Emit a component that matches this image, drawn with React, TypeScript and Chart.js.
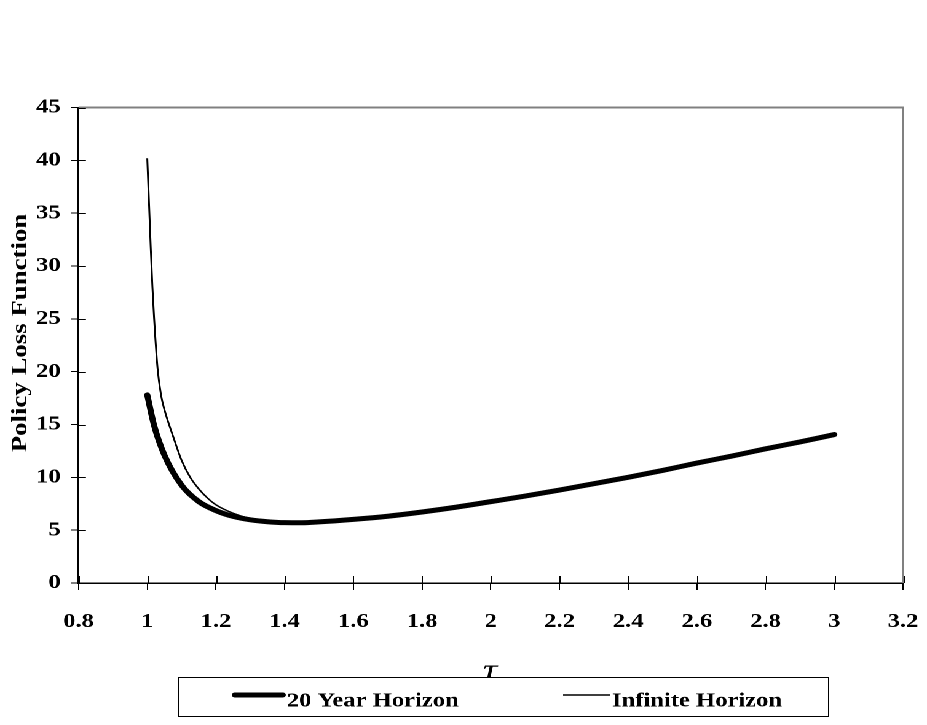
import React, { useEffect, useRef } from 'react';
import { Chart, registerables } from 'chart.js';

Chart.register(...registerables);

// ---- data ----
const X_TICKS = [0.8, 1, 1.2, 1.4, 1.6, 1.8, 2, 2.2, 2.4, 2.6, 2.8, 3, 3.2];
const Y_TICKS = [0, 5, 10, 15, 20, 25, 30, 35, 40, 45];

const TAU_20 = [1.0, 1.02, 1.05, 1.1, 1.15, 1.2, 1.25, 1.3, 1.35, 1.4, 1.45, 1.5, 1.6, 1.7, 1.8, 1.9, 2.0, 2.1, 2.2, 2.3, 2.4, 2.5, 2.6, 2.7, 2.8, 2.9, 3.0];
const LOSS_20 = [17.8, 14.9, 12.1, 9.25, 7.7, 6.85, 6.3, 5.98, 5.8, 5.71, 5.7, 5.78, 6.02, 6.32, 6.72, 7.18, 7.7, 8.23, 8.8, 9.4, 10.0, 10.65, 11.35, 12.0, 12.7, 13.35, 14.05];

const TAU_INF = [1.0, 1.005, 1.01, 1.015, 1.02, 1.03, 1.04, 1.05, 1.075, 1.1, 1.125, 1.15, 1.175, 1.2, 1.25, 1.3, 1.35, 1.4, 1.45, 1.5, 1.6, 1.7, 1.8, 1.9, 2.0, 2.1, 2.2, 2.3, 2.4, 2.5, 2.6, 2.7, 2.8, 2.9, 3.0];
const LOSS_INF = [40.2, 36.0, 31.8, 28.0, 25.0, 20.3, 17.8, 16.4, 13.9, 11.6, 10.0, 8.9, 8.05, 7.4, 6.6, 6.1, 5.85, 5.72, 5.7, 5.78, 6.02, 6.32, 6.72, 7.18, 7.7, 8.23, 8.8, 9.4, 10.0, 10.65, 11.35, 12.0, 12.7, 13.35, 14.05];

const SERIES_NAMES = ['20 Year Horizon', 'Infinite Horizon'];
const Y_TITLE = 'Policy Loss Function';
const X_TITLE = '\u03C4';

// ---- layout ----
const W = 754;
const H = 725;
const STRETCH = 927 / W;
const SERIF = "'Liberation Serif', 'Times New Roman', serif";

const framePlugin = {
  id: 'frame',
  afterDraw(chart: any) {
    const ctx = chart.ctx as CanvasRenderingContext2D;
    const { left, right, top, bottom } = chart.chartArea;
    const xs = chart.scales.x;
    const ys = chart.scales.y;
    ctx.save();
    // grey top/right frame
    ctx.strokeStyle = '#808080';
    ctx.lineWidth = 2;
    ctx.beginPath();
    ctx.moveTo(left, top);
    ctx.lineTo(right, top);
    ctx.lineTo(right, bottom);
    ctx.stroke();
    // inner tick parts
    ctx.strokeStyle = '#000';
    ctx.lineWidth = 1;
    ctx.beginPath();
    for (const v of Y_TICKS) {
      const p = Math.round(ys.getPixelForValue(v)) + 0.5;
      ctx.moveTo(left, p);
      ctx.lineTo(left + 6, p);
    }
    for (const v of X_TICKS) {
      const p = Math.round(xs.getPixelForValue(v)) + 0.5;
      ctx.moveTo(p, bottom);
      ctx.lineTo(p, bottom - 7);
    }
    ctx.stroke();
    // y title (rotated; glyphs widened along baseline)
    ctx.save();
    ctx.translate(17, 333);
    ctx.rotate(-Math.PI / 2);
    ctx.scale(1.22, 1 / STRETCH);
    ctx.font = `bold 22px ${SERIF}`;
    ctx.fillStyle = '#000';
    ctx.textAlign = 'center';
    ctx.textBaseline = 'middle';
    ctx.fillText(Y_TITLE, 0, 0);
    ctx.restore();
    // x title
    ctx.font = `italic 32px ${SERIF}`;
    ctx.fillStyle = '#000';
    ctx.textAlign = 'center';
    ctx.textBaseline = 'alphabetic';
    ctx.fillText(X_TITLE, 398.6, 680);
    // legend box
    const bx = 144.8, by = 677, bw = 528.7, bh = 39;
    ctx.fillStyle = '#fff';
    ctx.fillRect(bx, by, bw, bh);
    ctx.strokeStyle = '#000';
    ctx.lineWidth = 1;
    ctx.strokeRect(bx + 0.5, by + 0.5, bw, bh);
    // samples
    ctx.lineCap = 'round';
    ctx.lineWidth = 5;
    ctx.beginPath();
    ctx.moveTo(191, 695);
    ctx.lineTo(230, 695);
    ctx.stroke();
    ctx.lineCap = 'butt';
    ctx.lineWidth = 1.5;
    ctx.beginPath();
    ctx.moveTo(458, 695);
    ctx.lineTo(496, 695);
    ctx.stroke();
    ctx.font = `bold 20px ${SERIF}`;
    ctx.fillStyle = '#000';
    ctx.textAlign = 'left';
    ctx.textBaseline = 'alphabetic';
    ctx.fillText(SERIES_NAMES[0], 233.2, 706.7);
    ctx.fillText(SERIES_NAMES[1], 497.8, 706.7);
    ctx.restore();
  },
};

export default function App() {
  const ref = useRef<HTMLCanvasElement>(null);
  useEffect(() => {
    document.body.style.margin = '0';
    const tickFont = { family: SERIF, size: 20, weight: 'bold' as const };
    const chart = new Chart(ref.current!, {
      type: 'line',
      data: {
        datasets: [
          {
            label: SERIES_NAMES[0],
            data: TAU_20.map((t, i) => ({ x: t, y: LOSS_20[i] })),
            borderColor: '#000',
            borderWidth: 5,
            borderCapStyle: 'round',
            borderJoinStyle: 'round',
            pointRadius: 0,
            cubicInterpolationMode: 'monotone',
            fill: false,
          },
          {
            label: SERIES_NAMES[1],
            data: TAU_INF.map((t, i) => ({ x: t, y: LOSS_INF[i] })),
            borderColor: '#000',
            borderWidth: 1.5,
            pointRadius: 0,
            cubicInterpolationMode: 'monotone',
            fill: false,
          },
        ],
      },
      options: {
        animation: false,
        responsive: true,
        maintainAspectRatio: false,
        devicePixelRatio: 2,
        layout: { padding: { top: 107.5, right: 19.5, left: 0, bottom: 0 } },
        plugins: { legend: { display: false }, tooltip: { enabled: false }, title: { display: false } },
        scales: {
          x: {
            type: 'linear',
            min: 0.8,
            max: 3.2,
            afterBuildTicks: (s: any) => { s.ticks = X_TICKS.map((v) => ({ value: v })); },
            afterFit: (s: any) => { s.height = H - 583; s.paddingLeft = 0; s.paddingRight = 0; },
            grid: { drawOnChartArea: false, color: '#000', tickLength: 7, lineWidth: 1 },
            border: { color: '#000', width: 1.5 },
            ticks: {
              font: tickFont,
              color: '#000',
              padding: 20,
              maxRotation: 0,
              autoSkip: false,
              callback: (v: any) => String(Math.round(Number(v) * 10) / 10),
            },
          },
          y: {
            type: 'linear',
            min: 0,
            max: 45,
            afterBuildTicks: (s: any) => { s.ticks = Y_TICKS.map((v) => ({ value: v })); },
            afterFit: (s: any) => { s.width = 63.9; s.paddingTop = 0; s.paddingBottom = 0; },
            grid: { drawOnChartArea: false, color: '#000', tickLength: 6, lineWidth: 1 },
            border: { color: '#000', width: 1.5 },
            ticks: {
              font: tickFont,
              color: '#000',
              padding: 8.5,
              autoSkip: false,
              callback: (v: any) => String(v),
            },
          },
        },
      },
      plugins: [framePlugin],
    });
    return () => chart.destroy();
  }, []);
  return (
    <div style={{ width: W, height: H, transform: `scaleX(${STRETCH})`, transformOrigin: '0 0', position: 'relative', background: '#fff' }}>
      <canvas ref={ref} />
    </div>
  );
}
